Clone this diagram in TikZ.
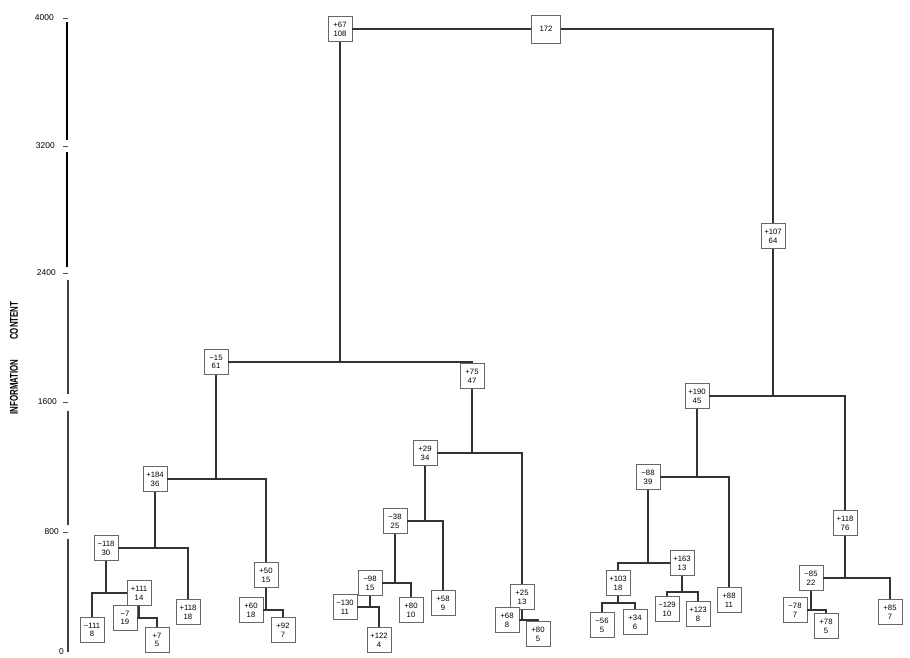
\documentclass[tikz,border=0pt]{standalone}
\usepackage{fontspec}
\setmainfont{Liberation Sans}
\tikzset{
  clbox/.style={draw=black!60,line width=0.5pt,fill=white,minimum width=6mm,minimum height=6.2mm,inner sep=0.4pt,align=center,font=\fontsize{5.5}{6.2}\selectfont},
  rootbox/.style={clbox,minimum width=7.2mm,minimum height=7mm},
  link/.style={line width=1.1pt,draw=black!80},
  axisseg/.style={line width=1.8pt,draw=black},
  ticklab/.style={anchor=east,inner sep=0pt,font=\fontsize{6}{7}\selectfont},
  tickmark/.style={line width=0.6pt,draw=black!70}
}

\begin{document}
\begin{tikzpicture}[x=0.25mm,y=-0.25mm]
  \useasboundingbox (0,0) rectangle (910,658);

  % axis
  \node[ticklab] (t4000) at (54,18) {4000};
  \node[ticklab] (t3200) at (55,146) {3200};
  \node[ticklab] (t2400) at (56,273) {2400};
  \node[ticklab] (t1600) at (57,402) {1600};
  \node[ticklab] (t800) at (59,532) {800};
  \node[ticklab] (t0) at (64,652) {0};
  \draw[tickmark] (63,18) -- (68,18);
  \draw[tickmark] (63,146) -- (68,146);
  \draw[tickmark] (63,273) -- (68,273);
  \draw[tickmark] (63,402) -- (68,402);
  \draw[tickmark] (63,532) -- (68,532);
  \draw[axisseg] (67,22) -- (67,140);
  \draw[axisseg] (67,152) -- (67,267);
  \draw[axisseg,line width=1.5pt,draw=black!75] (68,280) -- (68,394);
  \draw[axisseg,line width=1.5pt,draw=black!75] (68,411) -- (68,525);
  \draw[axisseg,line width=1.5pt,draw=black!75] (68,539) -- (68,652);
  \node[rotate=90,font=\fontsize{8}{9}\selectfont\bfseries] (ylab) at (14,358)
    {\scalebox{0.7}[1]{INFORMATION\hspace{7mm}CONTENT}};

  % upper clusters
  \node[rootbox] (Root) at (546,29) {172};
  \node[clbox] (P67) at (340,29) {+67\\108};
  \node[clbox] (P107) at (773,236) {+107\\64};
  \node[clbox] (M15) at (216,362) {−15\\61};
  \node[clbox] (P75) at (472,376) {+75\\47};
  \node[clbox] (P190) at (697,396) {+190\\45};

  % middle clusters
  \node[clbox] (N184) at (155,479) {+184\\36};
  \node[clbox] (P29) at (425,453) {+29\\34};
  \node[clbox] (N88) at (648,477) {−88\\39};
  \node[clbox] (P118r) at (845,523) {+118\\76};
  \node[clbox] (N118) at (106,548) {−118\\30};
  \node[clbox] (P50) at (266,575) {+50\\15};
  \node[clbox] (N38) at (395,521) {−38\\25};
  \node[clbox] (P163) at (682,563) {+163\\13};
  \node[clbox] (N85) at (811,578) {−85\\22};
  \node[clbox] (P111) at (139,593) {+111\\14};
  \node[clbox] (N98) at (370,583) {−98\\15};
  \node[clbox] (P103) at (618,583) {+103\\18};
  \node[clbox] (P25) at (522,597) {+25\\13};

  % leaves
  \node[clbox] (L111) at (92,630) {−111\\8};
  \node[clbox] (N7) at (125,618) {−7\\19};
  \node[clbox] (P7) at (157,640) {+7\\5};
  \node[clbox] (P118) at (188,612) {+118\\18};
  \node[clbox] (P60) at (251,610) {+60\\18};
  \node[clbox] (P92) at (283,630) {+92\\7};
  \node[clbox] (N130) at (345,607) {−130\\11};
  \node[clbox] (P122) at (379,640) {+122\\4};
  \node[clbox] (P80) at (411,610) {+80\\10};
  \node[clbox] (P58) at (443,603) {+58\\9};
  \node[clbox] (P68) at (507,620) {+68\\8};
  \node[clbox] (P80b) at (538,634) {+80\\5};
  \node[clbox] (N56) at (602,625) {−56\\5};
  \node[clbox] (P34) at (635,622) {+34\\6};
  \node[clbox] (N129) at (667,609) {−129\\10};
  \node[clbox] (P123) at (698,614) {+123\\8};
  \node[clbox] (P88) at (729,600) {+88\\11};
  \node[clbox] (N78) at (795,610) {−78\\7};
  \node[clbox] (P78) at (826,626) {+78\\5};
  \node[clbox] (P85) at (890,612) {+85\\7};

  \coordinate (b103) at (618,603);
  \coordinate (b163) at (682,592);

  % joins
  \draw[link] (P67.east) -- (Root.west);
  \draw[link] (Root.east) -| (P107.north);
  \draw[link] (P67.south) -- (P67.south |- M15.east);
  \draw[link] (M15.east) -| (P75.north);
  \draw[link] (P107.south) -- (P107.south |- P190.east);
  \draw[link] (P190.east) -| (P118r.north);
  \draw[link] (M15.south) -- (M15.south |- N184.east);
  \draw[link] (N184.east) -| (P50.north);
  \draw[link] (P75.south) -- (P75.south |- P29.east);
  \draw[link] (P29.east) -| (P25.north);
  \draw[link] (P190.south) -- (P190.south |- N88.east);
  \draw[link] (N88.east) -| (P88.north);
  \draw[link] (P118r.south) -- (P118r.south |- N85.east);
  \draw[link] (N85.east) -| (P85.north);
  \draw[link] (N184.south) -- (N184.south |- N118.east);
  \draw[link] (N118.east) -| (P118.north);
  \draw[link] (N118.south) -- (N118.south |- P111.west);
  \draw[link] (P111.west) -| (L111.north);
  \draw[link] (P111.south) -- (P111.south |- N7.east);
  \draw[link] (N7.east) -| (P7.north);
  \draw[link] (P50.south) -- (P50.south |- P60.east);
  \draw[link] (P60.east) -| (P92.north);
  \draw[link] (P29.south) -- (P29.south |- N38.east);
  \draw[link] (N38.east) -| (P58.north);
  \draw[link] (N38.south) -- (N38.south |- N98.east);
  \draw[link] (N98.east) -| (P80.north);
  \draw[link] (N98.south) -- (N98.south |- N130.east);
  \draw[link] (N130.east) -| (P122.north);
  \draw[link] (P25.south) -- (P25.south |- P68.east);
  \draw[link] (P68.east) -| (P80b.north);
  \draw[link] (N88.south) -- (N88.south |- P163.west);
  \draw[link] (P163.west) -| (P103.north);
  \draw[link] (P103.south) -- (b103);
  \draw[link] (N56.north) |- (b103) -| (P34.north);
  \draw[link] (P163.south) -- (b163);
  \draw[link] (N129.north) |- (b163) -| (P123.north);
  \draw[link] (N85.south) -- (N85.south |- N78.east);
  \draw[link] (N78.east) -| (P78.north);
\end{tikzpicture}
\end{document}
